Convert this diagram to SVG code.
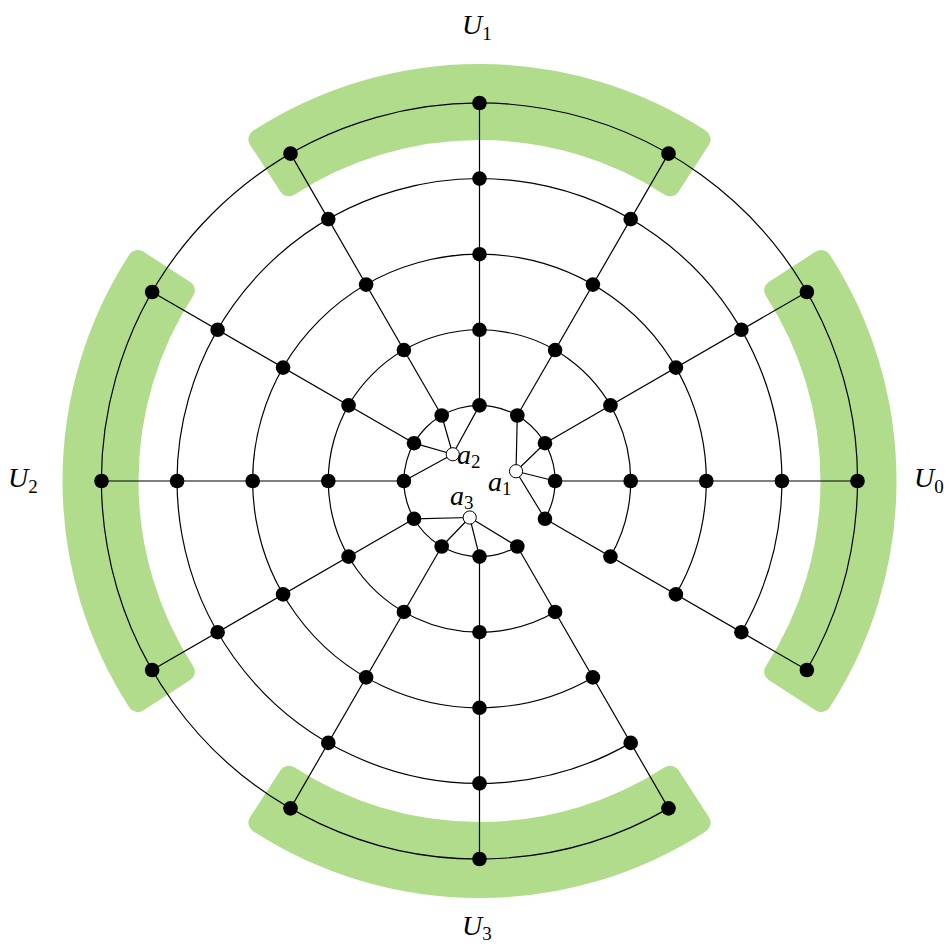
<svg xmlns="http://www.w3.org/2000/svg" width="949" height="947" viewBox="0 0 949 947">
<style>
.band{fill:#b0dc8c;stroke:#b0dc8c;stroke-width:20;stroke-linejoin:round}
.e{fill:none;stroke:#000;stroke-width:1.2}
.n{fill:#000}
.w{fill:#fff;stroke:#000;stroke-width:1}
.lbl{font-family:"Liberation Serif","DejaVu Serif",serif;font-style:italic;font-size:28px;fill:#000}
.sub{font-style:normal;font-size:19px}
</style>
<rect width="949" height="947" fill="#fff"/>
<g id="U0">
<path class="band" d="M 821.23 702.07 A 407 407 0 0 0 821.23 259.93 L 774.21 290.35 A 351 351 0 0 1 774.21 671.65 Z"/>
<text class="lbl" x="914" y="487">U<tspan class="sub" dy="6">0</tspan></text>
</g>
<g id="U1">
<path class="band" d="M 700.57 139.27 A 407 407 0 0 0 258.43 139.27 L 288.85 186.29 A 351 351 0 0 1 670.15 186.29 Z"/>
<text class="lbl" x="462" y="34">U<tspan class="sub" dy="6">1</tspan></text>
</g>
<g id="U2">
<path class="band" d="M 137.77 259.93 A 407 407 0 0 0 137.77 702.07 L 184.79 671.65 A 351 351 0 0 1 184.79 290.35 Z"/>
<text class="lbl" x="8" y="487">U<tspan class="sub" dy="6">2</tspan></text>
</g>
<g id="U3">
<path class="band" d="M 258.43 822.73 A 407 407 0 0 0 700.57 822.73 L 670.15 775.71 A 351 351 0 0 1 288.85 775.71 Z"/>
<text class="lbl" x="462" y="935">U<tspan class="sub" dy="5">3</tspan></text>
</g>
<g id="connectors">
<path class="e" d="M 544.97 518.8 A 75.6 75.6 0 1 0 517.3 546.47"/>
<path class="e" d="M 610.44 556.6 A 151.2 151.2 0 1 0 555.1 611.94"/>
<path class="e" d="M 675.91 594.4 A 226.8 226.8 0 1 0 592.9 677.41"/>
<path class="e" d="M 741.38 632.2 A 302.4 302.4 0 1 0 630.7 742.88"/>
<path class="e" d="M 806.86 670 A 378 378 0 1 0 668.5 808.36"/>
<line class="e" x1="555.1" y1="481" x2="857.5" y2="481"/>
<line class="e" x1="544.97" y1="443.2" x2="806.86" y2="292"/>
<line class="e" x1="517.3" y1="415.53" x2="668.5" y2="153.64"/>
<line class="e" x1="479.5" y1="405.4" x2="479.5" y2="103"/>
<line class="e" x1="441.7" y1="415.53" x2="290.5" y2="153.64"/>
<line class="e" x1="414.03" y1="443.2" x2="152.14" y2="292"/>
<line class="e" x1="403.9" y1="481" x2="101.5" y2="481"/>
<line class="e" x1="414.03" y1="518.8" x2="152.14" y2="670"/>
<line class="e" x1="441.7" y1="546.47" x2="290.5" y2="808.36"/>
<line class="e" x1="479.5" y1="556.6" x2="479.5" y2="859"/>
<line class="e" x1="517.3" y1="546.47" x2="668.5" y2="808.36"/>
<line class="e" x1="544.97" y1="518.8" x2="806.86" y2="670"/>
<path class="e" d="M 516.01 471.22 L 517.3 415.53 M 516.01 471.22 L 544.97 443.2 M 516.01 471.22 L 555.1 481 M 516.01 471.22 L 544.97 518.8"/>
<path class="e" d="M 452.77 454.27 L 479.5 405.4 M 452.77 454.27 L 441.7 415.53 M 452.77 454.27 L 414.03 443.2 M 452.77 454.27 L 403.9 481"/>
<path class="e" d="M 469.72 517.51 L 414.03 518.8 M 469.72 517.51 L 441.7 546.47 M 469.72 517.51 L 479.5 556.6 M 469.72 517.51 L 517.3 546.47"/>
</g>
<g id="n1_0"><circle class="n" cx="555.1" cy="481" r="7.3"/></g>
<g id="n1_30"><circle class="n" cx="544.97" cy="443.2" r="7.3"/></g>
<g id="n1_60"><circle class="n" cx="517.3" cy="415.53" r="7.3"/></g>
<g id="n1_90"><circle class="n" cx="479.5" cy="405.4" r="7.3"/></g>
<g id="n1_120"><circle class="n" cx="441.7" cy="415.53" r="7.3"/></g>
<g id="n1_150"><circle class="n" cx="414.03" cy="443.2" r="7.3"/></g>
<g id="n1_180"><circle class="n" cx="403.9" cy="481" r="7.3"/></g>
<g id="n1_210"><circle class="n" cx="414.03" cy="518.8" r="7.3"/></g>
<g id="n1_240"><circle class="n" cx="441.7" cy="546.47" r="7.3"/></g>
<g id="n1_270"><circle class="n" cx="479.5" cy="556.6" r="7.3"/></g>
<g id="n1_300"><circle class="n" cx="517.3" cy="546.47" r="7.3"/></g>
<g id="n1_330"><circle class="n" cx="544.97" cy="518.8" r="7.3"/></g>
<g id="n2_0"><circle class="n" cx="630.7" cy="481" r="7.3"/></g>
<g id="n2_30"><circle class="n" cx="610.44" cy="405.4" r="7.3"/></g>
<g id="n2_60"><circle class="n" cx="555.1" cy="350.06" r="7.3"/></g>
<g id="n2_90"><circle class="n" cx="479.5" cy="329.8" r="7.3"/></g>
<g id="n2_120"><circle class="n" cx="403.9" cy="350.06" r="7.3"/></g>
<g id="n2_150"><circle class="n" cx="348.56" cy="405.4" r="7.3"/></g>
<g id="n2_180"><circle class="n" cx="328.3" cy="481" r="7.3"/></g>
<g id="n2_210"><circle class="n" cx="348.56" cy="556.6" r="7.3"/></g>
<g id="n2_240"><circle class="n" cx="403.9" cy="611.94" r="7.3"/></g>
<g id="n2_270"><circle class="n" cx="479.5" cy="632.2" r="7.3"/></g>
<g id="n2_300"><circle class="n" cx="555.1" cy="611.94" r="7.3"/></g>
<g id="n2_330"><circle class="n" cx="610.44" cy="556.6" r="7.3"/></g>
<g id="n3_0"><circle class="n" cx="706.3" cy="481" r="7.3"/></g>
<g id="n3_30"><circle class="n" cx="675.91" cy="367.6" r="7.3"/></g>
<g id="n3_60"><circle class="n" cx="592.9" cy="284.59" r="7.3"/></g>
<g id="n3_90"><circle class="n" cx="479.5" cy="254.2" r="7.3"/></g>
<g id="n3_120"><circle class="n" cx="366.1" cy="284.59" r="7.3"/></g>
<g id="n3_150"><circle class="n" cx="283.09" cy="367.6" r="7.3"/></g>
<g id="n3_180"><circle class="n" cx="252.7" cy="481" r="7.3"/></g>
<g id="n3_210"><circle class="n" cx="283.09" cy="594.4" r="7.3"/></g>
<g id="n3_240"><circle class="n" cx="366.1" cy="677.41" r="7.3"/></g>
<g id="n3_270"><circle class="n" cx="479.5" cy="707.8" r="7.3"/></g>
<g id="n3_300"><circle class="n" cx="592.9" cy="677.41" r="7.3"/></g>
<g id="n3_330"><circle class="n" cx="675.91" cy="594.4" r="7.3"/></g>
<g id="n4_0"><circle class="n" cx="781.9" cy="481" r="7.3"/></g>
<g id="n4_30"><circle class="n" cx="741.38" cy="329.8" r="7.3"/></g>
<g id="n4_60"><circle class="n" cx="630.7" cy="219.12" r="7.3"/></g>
<g id="n4_90"><circle class="n" cx="479.5" cy="178.6" r="7.3"/></g>
<g id="n4_120"><circle class="n" cx="328.3" cy="219.12" r="7.3"/></g>
<g id="n4_150"><circle class="n" cx="217.62" cy="329.8" r="7.3"/></g>
<g id="n4_180"><circle class="n" cx="177.1" cy="481" r="7.3"/></g>
<g id="n4_210"><circle class="n" cx="217.62" cy="632.2" r="7.3"/></g>
<g id="n4_240"><circle class="n" cx="328.3" cy="742.88" r="7.3"/></g>
<g id="n4_270"><circle class="n" cx="479.5" cy="783.4" r="7.3"/></g>
<g id="n4_300"><circle class="n" cx="630.7" cy="742.88" r="7.3"/></g>
<g id="n4_330"><circle class="n" cx="741.38" cy="632.2" r="7.3"/></g>
<g id="n5_0"><circle class="n" cx="857.5" cy="481" r="7.3"/></g>
<g id="n5_30"><circle class="n" cx="806.86" cy="292" r="7.3"/></g>
<g id="n5_60"><circle class="n" cx="668.5" cy="153.64" r="7.3"/></g>
<g id="n5_90"><circle class="n" cx="479.5" cy="103" r="7.3"/></g>
<g id="n5_120"><circle class="n" cx="290.5" cy="153.64" r="7.3"/></g>
<g id="n5_150"><circle class="n" cx="152.14" cy="292" r="7.3"/></g>
<g id="n5_180"><circle class="n" cx="101.5" cy="481" r="7.3"/></g>
<g id="n5_210"><circle class="n" cx="152.14" cy="670" r="7.3"/></g>
<g id="n5_240"><circle class="n" cx="290.5" cy="808.36" r="7.3"/></g>
<g id="n5_270"><circle class="n" cx="479.5" cy="859" r="7.3"/></g>
<g id="n5_300"><circle class="n" cx="668.5" cy="808.36" r="7.3"/></g>
<g id="n5_330"><circle class="n" cx="806.86" cy="670" r="7.3"/></g>
<g id="a1"><circle class="w" cx="516.01" cy="471.22" r="6.6"/><text class="lbl" x="488" y="491">a<tspan class="sub" dy="4">1</tspan></text></g>
<g id="a2"><circle class="w" cx="452.77" cy="454.27" r="6.6"/><text class="lbl" x="457" y="464">a<tspan class="sub" dy="4">2</tspan></text></g>
<g id="a3"><circle class="w" cx="469.72" cy="517.51" r="6.6"/><text class="lbl" x="450" y="505">a<tspan class="sub" dy="4">3</tspan></text></g>
</svg>
